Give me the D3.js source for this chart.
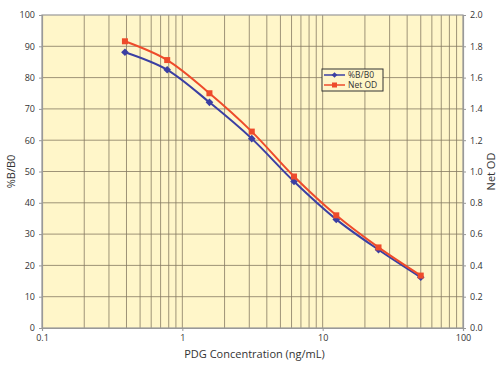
<!DOCTYPE html>
<html>
<head>
<meta charset="utf-8">
<script src="https://cdn.jsdelivr.net/npm/d3@7"></script>
<style>
  body { margin: 0; background: #fff; }
  svg text { font-family: "Open Sans", sans-serif; fill: #333; }
</style>
</head>
<body>
<svg id="chart"></svg>
<script>
// data
const conc = [0.39, 0.78, 1.56, 3.125, 6.25, 12.5, 25, 50]
const pctB = [88.1, 82.5, 72.1, 60.5, 46.8, 34.7, 25, 16.2]
const netOD = [1.832, 1.712, 1.50, 1.255, 0.968, 0.72, 0.515, 0.335]
const leftTicks = [0, 10, 20, 30, 40, 50, 60, 70, 80, 90, 100]
const rightTicks = [0, 0.2, 0.4, 0.6, 0.8, 1.0, 1.2, 1.4, 1.6, 1.8, 2.0]
const xTicks = [0.1, 1, 10, 100]

const w = 504, h = 369
const m = {top: 15, right: 41, bottom: 41, left: 42}
const iw = w - m.left - m.right
const ih = h - m.top - m.bottom

const svg = d3.select('#chart').attr('width', w).attr('height', h)
const g = svg.append('g').attr('transform', `translate(${m.left},${m.top})`)

const x = d3.scaleLog().domain([0.1, 100]).range([0, iw])
const yL = d3.scaleLinear().domain([0, 100]).range([ih, 0])
const yR = d3.scaleLinear().domain([0, 2]).range([ih, 0])

// background
g.append('rect').attr('width', iw).attr('height', ih).attr('fill', '#fff6c9')

// vertical grid (log minor + major)
const minor = []
for (let d = 0.1; d < 100; d *= 10) {
  for (let k = 2; k <= 9; k++) minor.push(+(d * k).toPrecision(3))
}
g.selectAll('.vgrid').data(minor.concat([1, 10])).enter().append('line')
  .attr('x1', d => x(d)).attr('x2', d => x(d))
  .attr('y1', 0).attr('y2', ih)
  .attr('stroke', '#857a62').attr('stroke-width', 0.8)

// horizontal grid
g.selectAll('.hgrid').data(leftTicks.slice(1, -1)).enter().append('line')
  .attr('x1', 0).attr('x2', iw)
  .attr('y1', d => yL(d)).attr('y2', d => yL(d))
  .attr('stroke', '#857a62').attr('stroke-width', 0.8)

// frame
g.append('rect').attr('width', iw).attr('height', ih)
  .attr('fill', 'none').attr('stroke', '#999').attr('stroke-width', 1.2)

// axes
const axL = g.append('g').call(d3.axisLeft(yL).tickValues(leftTicks).tickSize(3).tickPadding(4))
const axR = g.append('g').attr('transform', `translate(${iw},0)`)
  .call(d3.axisRight(yR).tickValues(rightTicks).tickSize(3).tickPadding(4).tickFormat(d3.format('.1f')))
const axB = g.append('g').attr('transform', `translate(0,${ih})`)
  .call(d3.axisBottom(x).tickValues(xTicks).tickSize(3).tickPadding(4).tickFormat(d => d))
;[axL, axR, axB].forEach(a => {
  a.select('.domain').attr('stroke', '#999').attr('stroke-width', 1.2)
  a.selectAll('.tick line').attr('stroke', '#999')
  a.selectAll('.tick text').attr('font-size', 9).attr('fill', '#222')
    .attr('font-family', '"Open Sans", sans-serif')
})

// axis titles
svg.append('text').attr('transform', `translate(15,${m.top + ih / 2}) rotate(-90)`)
  .attr('text-anchor', 'middle').attr('font-size', 11).text('%B/B0')
svg.append('text').attr('transform', `translate(495,${m.top + ih / 2}) rotate(-90)`)
  .attr('text-anchor', 'middle').attr('font-size', 11).text('Net OD')
svg.append('text').attr('x', m.left + iw / 2 + 2).attr('y', 358)
  .attr('text-anchor', 'middle').attr('font-size', 11).text('PDG Concentration (ng/mL)')

// series
const blue = '#3b3fa3', red = '#ee4b2b'
const lineL = d3.line().x((d, i) => x(conc[i])).y(d => yL(d)).curve(d3.curveCatmullRom)
const lineR = d3.line().x((d, i) => x(conc[i])).y(d => yR(d)).curve(d3.curveCatmullRom)

g.append('path').datum(pctB).attr('d', lineL).attr('fill', 'none')
  .attr('stroke', blue).attr('stroke-width', 2)
g.selectAll('.pb').data(pctB).enter().append('rect')
  .attr('x', -2.7).attr('y', -2.7).attr('width', 5.4).attr('height', 5.4)
  .attr('transform', (d, i) => `translate(${x(conc[i])},${yL(d)}) rotate(45)`)
  .attr('fill', blue)

g.append('path').datum(netOD).attr('d', lineR).attr('fill', 'none')
  .attr('stroke', red).attr('stroke-width', 2)
g.selectAll('.pr').data(netOD).enter().append('rect')
  .attr('x', (d, i) => x(conc[i]) - 3).attr('y', d => yR(d) - 3)
  .attr('width', 6).attr('height', 6).attr('fill', red)

// legend
const lg = svg.append('g').attr('transform', 'translate(322,69)')
lg.append('rect').attr('width', 61).attr('height', 22)
  .attr('fill', '#fff6c9').attr('stroke', '#333').attr('stroke-width', 1)
const items = [['%B/B0', blue, 'diamond'], ['Net OD', red, 'square']]
items.forEach((it, i) => {
  const yy = 6 + i * 10
  lg.append('line').attr('x1', 2).attr('x2', 23).attr('y1', yy).attr('y2', yy)
    .attr('stroke', it[1]).attr('stroke-width', 1.5)
  if (it[2] === 'diamond') {
    lg.append('rect').attr('x', -2).attr('y', -2).attr('width', 4).attr('height', 4)
      .attr('transform', `translate(12.5,${yy}) rotate(45)`).attr('fill', it[1])
  } else {
    lg.append('rect').attr('x', 10).attr('y', yy - 2.5).attr('width', 5).attr('height', 5).attr('fill', it[1])
  }
  lg.append('text').attr('x', 26).attr('y', yy + 3).attr('font-size', 8.5).attr('fill', '#222').text(it[0])
})
</script>
</body>
</html>
